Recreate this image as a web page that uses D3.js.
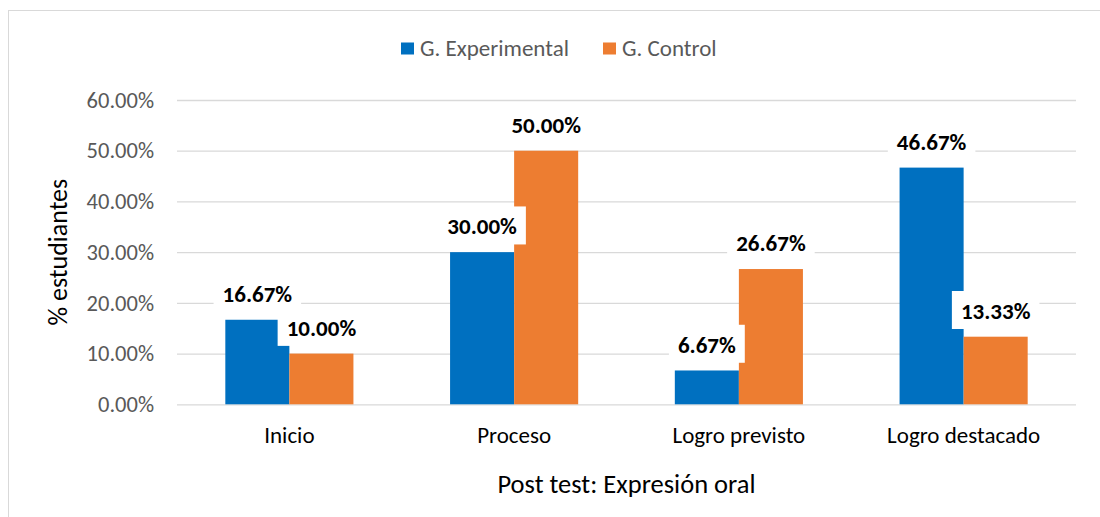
<!DOCTYPE html>
<html><head><meta charset="utf-8">
<script src="https://cdn.jsdelivr.net/npm/d3@7"></script>
<style>
html,body{margin:0;padding:0;background:#fff;}
svg{display:block;}
text{font-family:Carlito,Calibri,Lato,sans-serif;}
</style></head>
<body>
<svg id="chart" width="1100" height="517"></svg>
<script>
const categories = ["Inicio", "Proceso", "Logro previsto", "Logro destacado"];
const seriesNames = ["G. Experimental", "G. Control"];
const experimental = [16.67, 30.00, 6.67, 46.67];
const control = [10.00, 50.00, 26.67, 13.33];
const yTicks = [0, 10, 20, 30, 40, 50, 60];
const colors = ["#0070C0", "#ED7D31"];
const xTitle = "Post test: Expresión oral";
const yTitle = "% estudiantes";

const svg = d3.select("#chart");
const plot = {left: 177, right: 1076, top: 100, bottom: 404.3};

// outer border
svg.append("rect").attr("x", 8.5).attr("y", 10.5).attr("width", 1120).attr("height", 530)
  .attr("fill", "#fff").attr("stroke", "#d9d9d9").attr("stroke-width", 1);

const y = d3.scaleLinear().domain([0, 60]).range([plot.bottom, plot.top]);
const x0 = d3.scaleBand().domain(categories).range([plot.left, plot.right])
  .paddingInner(0.43).paddingOuter(0.215);
const x1 = d3.scaleBand().domain(seriesNames).range([0, x0.bandwidth()]).padding(0);

// gridlines
const grid = svg.append("g").attr("transform", `translate(${plot.left},0)`)
  .call(d3.axisLeft(y).tickValues(yTicks).tickSize(-(plot.right - plot.left)).tickFormat(""));
grid.select(".domain").remove();
grid.selectAll("line").attr("stroke", "#d9d9d9").attr("stroke-width", 1.3);

// y axis labels
const yAxis = svg.append("g").attr("transform", `translate(${plot.left},0)`)
  .call(d3.axisLeft(y).tickValues(yTicks).tickSize(0).tickPadding(23).tickFormat(d => d.toFixed(2) + "%"));
yAxis.select(".domain").remove();
yAxis.selectAll("text").attr("fill", "#595959").style("font-size", "22.5px").style("font-family", "Carlito,Calibri,Lato,sans-serif");

// bars
const rows = categories.map((c, i) => ({cat: c, vals: [experimental[i], control[i]]}));
const groups = svg.append("g").selectAll("g").data(rows).join("g")
  .attr("transform", d => `translate(${x0(d.cat)},0)`);
groups.selectAll("rect").data(d => d.vals.map((v, j) => ({v, s: seriesNames[j], j}))).join("rect")
  .attr("x", d => x1(d.s)).attr("width", x1.bandwidth())
  .attr("y", d => y(d.v)).attr("height", d => y(0) - y(d.v))
  .attr("fill", d => colors[d.j]);

// x axis labels
const xAxis = svg.append("g").attr("transform", `translate(0,${plot.bottom})`)
  .call(d3.axisBottom(x0).tickSize(0).tickPadding(0));
xAxis.select(".domain").remove();
xAxis.selectAll("text").attr("dy", null).attr("y", 39).attr("fill", "#000")
  .style("font-size", "23px").style("font-family", "Carlito,Calibri,Lato,sans-serif");

// data labels with white boxes
const labels = svg.append("g");
rows.forEach(r => {
  r.vals.forEach((v, j) => {
    const cx = x0(r.cat) + x1(seriesNames[j]) + x1.bandwidth() / 2;
    const bottom = y(v) - 7.7;
    const g = labels.append("g");
    const t = g.append("text").attr("x", cx).attr("y", bottom - 10).attr("text-anchor", "middle")
      .style("font-size", "23px").style("font-weight", "bold").attr("fill", "#000")
      .text(v.toFixed(2) + "%");
    const w = t.node().getComputedTextLength();
    g.insert("rect", "text").attr("x", cx - w / 2 - 9).attr("y", bottom - 38)
      .attr("width", w + 18).attr("height", 38).attr("fill", "#fff");
  });
});

// legend
const legend = svg.append("g");
const legX = [401, 603];
seriesNames.forEach((s, j) => {
  legend.append("rect").attr("x", legX[j]).attr("y", 42.5).attr("width", 13).attr("height", 12).attr("fill", colors[j]);
  legend.append("text").attr("x", legX[j] + 19).attr("y", 55.5).attr("fill", "#595959")
    .style("font-size", "23px").text(s);
});

// axis titles
svg.append("text").attr("x", (plot.left + plot.right) / 2).attr("y", 492.5).attr("text-anchor", "middle")
  .style("font-size", "26.5px").attr("fill", "#000").text(xTitle);
svg.append("text").attr("transform", `translate(67,${(plot.top + plot.bottom) / 2}) rotate(-90)`)
  .attr("text-anchor", "middle").style("font-size", "26px").attr("fill", "#000").text(yTitle);
</script>
</body></html>
